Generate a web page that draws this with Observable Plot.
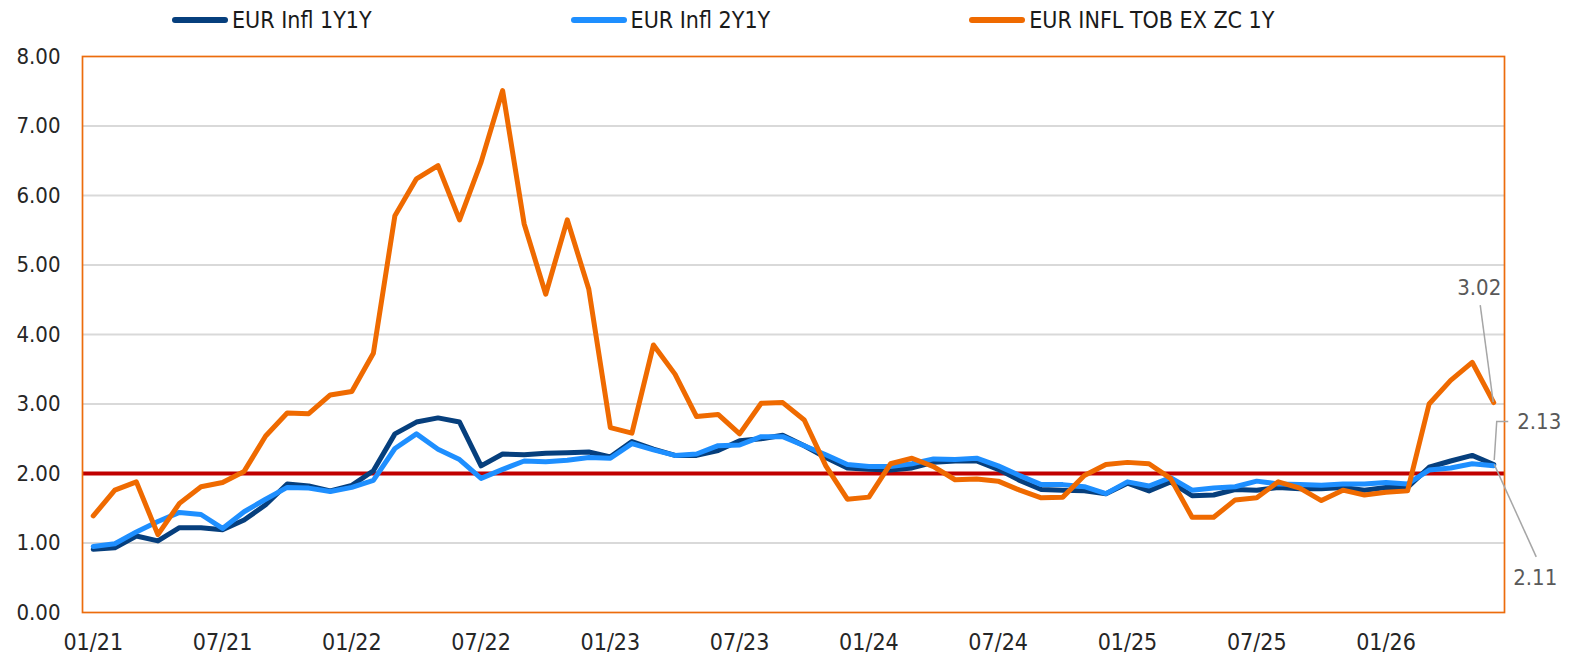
<!DOCTYPE html>
<html>
<head>
<meta charset="utf-8">
<script src="https://cdn.jsdelivr.net/npm/d3@7"></script>
<script src="https://cdn.jsdelivr.net/npm/@observablehq/plot@0.6"></script>
<style>
  body { margin: 0; background: #fff; font-family: "DejaVu Sans Condensed", "DejaVu Sans", sans-serif; }
  #legend { height: 40px; display: flex; align-items: center; padding-left: 172px; gap: 199px; }
  .item { display: flex; align-items: center; font-size: 23px; color: #1a1a1a; white-space: nowrap; }
  .sw { width: 56px; height: 6px; border-radius: 3px; margin-right: 4px; }
</style>
</head>
<body>
<div id="legend"></div>
<div id="chart"></div>
<script>
// ---- categories (monthly) ----
const months = [
  "01/21","02/21","03/21","04/21","05/21","06/21","07/21","08/21","09/21","10/21","11/21","12/21",
  "01/22","02/22","03/22","04/22","05/22","06/22","07/22","08/22","09/22","10/22","11/22","12/22",
  "01/23","02/23","03/23","04/23","05/23","06/23","07/23","08/23","09/23","10/23","11/23","12/23",
  "01/24","02/24","03/24","04/24","05/24","06/24","07/24","08/24","09/24","10/24","11/24","12/24",
  "01/25","02/25","03/25","04/25","05/25","06/25","07/25","08/25","09/25","10/25","11/25","12/25",
  "01/26","02/26","03/26","04/26","05/26","06/26"
];
const tickLabels = ["01/21","07/21","01/22","07/22","01/23","07/23","01/24","07/24","01/25","07/25","01/26"];
const yTicks = [0, 1, 2, 3, 4, 5, 6, 7, 8];
const targetLevel = 2;

// ---- series ----
const seriesNames = ["EUR Infl 1Y1Y", "EUR Infl 2Y1Y", "EUR INFL TOB EX ZC 1Y"];
const infl1Y1Y = [
  0.91, 0.93, 1.10, 1.03, 1.22, 1.22, 1.19, 1.33, 1.55, 1.85,
  1.82, 1.75, 1.83, 2.04, 2.57, 2.74, 2.80, 2.74, 2.11, 2.28,
  2.27, 2.29, 2.30, 2.31, 2.24, 2.46, 2.35, 2.26, 2.26, 2.33,
  2.47, 2.50, 2.55, 2.40, 2.23, 2.08, 2.06, 2.05, 2.08, 2.16,
  2.18, 2.18, 2.06, 1.90, 1.77, 1.76, 1.75, 1.71, 1.86, 1.75,
  1.88, 1.68, 1.69, 1.77, 1.76, 1.80, 1.78, 1.78, 1.80, 1.76,
  1.80, 1.80, 2.09, 2.18, 2.26, 2.13
];
const infl2Y1Y = [
  0.95, 0.99, 1.16, 1.31, 1.44, 1.41, 1.21, 1.45, 1.63, 1.80,
  1.79, 1.74, 1.80, 1.90, 2.36, 2.57, 2.35, 2.20, 1.93, 2.06,
  2.18, 2.17, 2.19, 2.23, 2.22, 2.43, 2.34, 2.26, 2.28, 2.40,
  2.41, 2.53, 2.53, 2.40, 2.27, 2.13, 2.10, 2.10, 2.14, 2.21,
  2.20, 2.22, 2.11, 1.97, 1.84, 1.84, 1.81, 1.71, 1.88, 1.82,
  1.94, 1.76, 1.79, 1.81, 1.89, 1.85, 1.84, 1.83, 1.85, 1.85,
  1.87, 1.85, 2.05, 2.08, 2.14, 2.11
];
const inflTobZC1Y = [
  1.39, 1.76, 1.88, 1.12, 1.57, 1.81, 1.87, 2.03, 2.54, 2.87,
  2.86, 3.13, 3.18, 3.73, 5.71, 6.24, 6.43, 5.65, 6.48, 7.51,
  5.59, 4.58, 5.65, 4.65, 2.66, 2.58, 3.85, 3.43, 2.82, 2.85,
  2.57, 3.01, 3.02, 2.77, 2.11, 1.63, 1.66, 2.14, 2.22, 2.10,
  1.91, 1.92, 1.89, 1.76, 1.65, 1.66, 1.97, 2.13, 2.16, 2.14,
  1.93, 1.37, 1.37, 1.62, 1.65, 1.88, 1.79, 1.61, 1.76, 1.69,
  1.73, 1.75, 3.00, 3.34, 3.60, 3.02
];

// ---- styles ----
const seriesColors = ["#063f7d", "#1e8fff", "#ef6a00"];
const seriesValues = [infl1Y1Y, infl2Y1Y, inflTobZC1Y];

// end-value callouts (pixel offsets from the last point)
const callouts = [
  { s: 2, anchor: "middle", tdx: -14, tdy: -115, path: [[0, 0], [-13, -97]] },
  { s: 0, anchor: "start",  tdx: 24,  tdy: -42,  path: [[1, -4], [3.5, -42.5], [15, -42.5]] },
  { s: 1, anchor: "start",  tdx: 20,  tdy: 112,  path: [[1, -1], [43, 91.5]] }
];

// legend
const legend = d3.select("#legend");
seriesNames.forEach((name, k) => {
  const it = legend.append("div").attr("class", "item");
  it.append("div").attr("class", "sw").style("background", seriesColors[k]);
  it.append("span").text(name);
});

const tables = seriesValues.map(vals => vals.map((v, i) => ({ i, v })));
const tickIdx = tickLabels.map(l => months.indexOf(l));
const lastIdx = months.length - 1;

function calloutMark(index, scales) {
  const g = d3.create("svg:g");
  for (const c of callouts) {
    const val = seriesValues[c.s][lastIdx];
    const px = scales.x(lastIdx), py = scales.y(val);
    g.append("path")
      .attr("d", d3.line()(c.path.map(([dx, dy]) => [px + dx, py + dy])))
      .attr("fill", "none").attr("stroke", "#a6a6a6").attr("stroke-width", 1.5);
    g.append("text")
      .attr("x", px + c.tdx).attr("y", py + c.tdy)
      .attr("text-anchor", c.anchor).attr("dominant-baseline", "central")
      .attr("fill", "#595959").attr("font-size", 22)
      .text(val.toFixed(2));
  }
  return g.node();
}

const chart = Plot.plot({
  width: 1579,
  height: 616,
  marginTop: 16,
  marginBottom: 44,
  marginLeft: 82,
  marginRight: 75,
  style: { fontFamily: "'DejaVu Sans Condensed', 'DejaVu Sans', sans-serif", fontSize: "22px", color: "#262626", background: "#fff", overflow: "visible" },
  x: { domain: [-0.5, months.length - 0.5] },
  y: { domain: [0, 8] },
  marks: [
    Plot.gridY(yTicks.slice(1, -1), { stroke: "#d9d9d9", strokeWidth: 2, strokeOpacity: 1 }),
    Plot.ruleY([targetLevel], { stroke: "#c00000", strokeWidth: 4 }),
    ...tables.map((t, k) => Plot.line(t, {
      x: "i", y: "v", stroke: seriesColors[k], strokeWidth: 5,
      strokeLinejoin: "round", strokeLinecap: "round"
    })),
    Plot.frame({ stroke: "#ec6c0c", strokeWidth: 1.7 }),
    Plot.axisY(yTicks, { tickFormat: d => d.toFixed(2), tickSize: 0, tickPadding: 22, fontSize: 22, label: null }),
    Plot.axisX(tickIdx, { tickFormat: i => months[i], tickSize: 0, tickPadding: 21, fontSize: 23, label: null }),
    calloutMark
  ]
});
document.getElementById("chart").appendChild(chart);
</script>
</body>
</html>
